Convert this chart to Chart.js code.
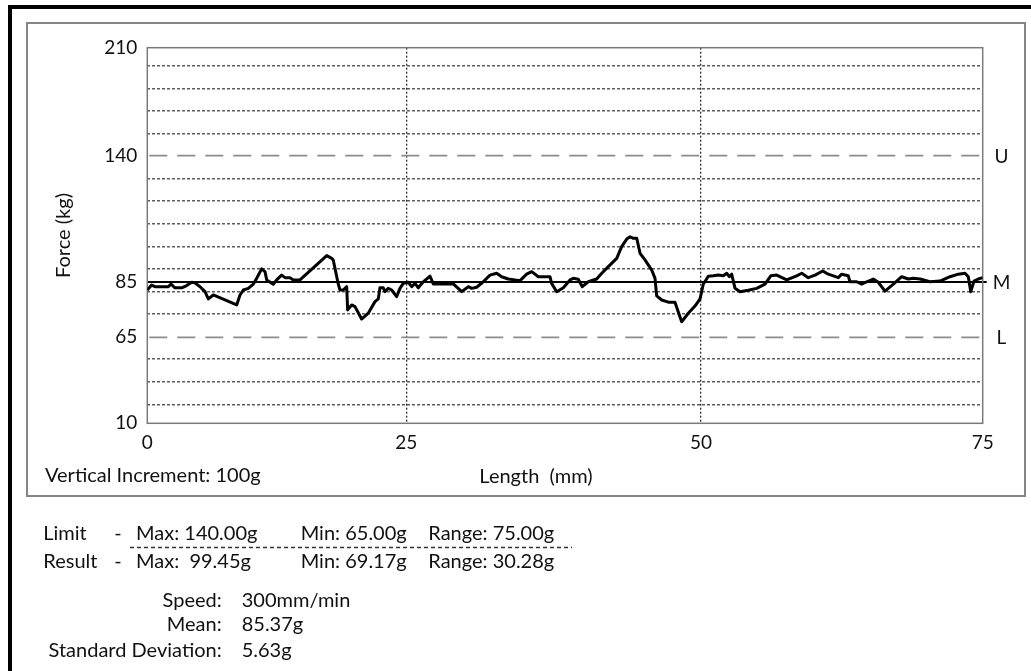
<!DOCTYPE html>
<html>
<head>
<meta charset="utf-8">
<title>Force / Length trace</title>
<script src="https://cdn.jsdelivr.net/npm/chart.js@4.4.1/dist/chart.umd.min.js"></script>
<style>
    html, body { margin: 0; padding: 0; background: #fff; }
    #chart-wrap { position: relative; width: 1031px; height: 671px; }
</style>
</head>
<body>
<div id="chart-wrap"><canvas id="force-chart" width="1031" height="671"></canvas></div>
<script>
// Trace (length in mm, force in kg)
const lengthMm = [
    0, 0.42, 0.74, 2.03, 2.29, 2.67, 3.32, 3.80, 4.29, 4.60,
    5.09, 5.57, 5.89, 6.37, 8.63, 8.95, 9.27, 9.75, 10.23, 10.56,
    11.04, 11.36, 11.53, 12.16, 12.49, 12.97, 13.29, 13.77, 14.09, 14.74,
    17.32, 17.80, 17.95, 18.44, 18.60, 18.92, 19.25, 19.34, 19.73, 20.05,
    20.69, 21.33, 21.98, 22.30, 22.46, 22.78, 22.94, 23.26, 23.59, 24.07,
    24.39, 24.71, 25.17, 25.46, 25.74, 26.02, 26.44, 27.01, 27.29, 28.99,
    29.70, 30.26, 30.55, 30.97, 31.53, 32.10, 32.67, 33.09, 33.65, 34.65,
    35.21, 35.64, 36.20, 37.19, 37.33, 37.76, 38.32, 38.89, 39.17, 39.59,
    39.93, 40.44, 41.15, 41.58, 42.14, 42.85, 43.27, 43.70, 43.98, 44.26,
    44.55, 44.83, 45.25, 45.82, 46.10, 46.24, 46.67, 47.23, 47.79, 48.36,
    48.92, 49.49, 49.92, 50.20, 50.65, 51.09, 51.54, 51.98, 52.28, 52.51,
    52.72, 53.02, 53.46, 54.20, 54.94, 55.68, 56.19, 56.72, 57.61, 58.49,
    58.94, 59.52, 60.12, 60.80, 61.30, 62.18, 62.49, 63.07, 63.22, 63.82,
    64.26, 64.71, 65.29, 65.73, 66.33, 67.07, 67.81, 68.40, 68.84, 69.44,
    70.32, 71.21, 72.10, 72.83, 73.43, 73.72, 73.94, 74.23, 74.61, 75
];
const forceKg = [
    82.1, 83.9, 83.3, 83.3, 84.2, 82.9, 82.9, 83.7, 84.9, 84.7,
    83.3, 81.5, 78.9, 80.3, 76.7, 80.3, 82.1, 82.7, 84.2, 86.6,
    90.7, 89.5, 85.9, 84.2, 85.9, 88.0, 86.9, 86.9, 85.9, 85.9,
    96.5, 95.3, 94.6, 84.2, 82.1, 82.1, 83.3, 74.9, 76.7, 76.1,
    71.6, 73.7, 77.9, 78.9, 82.9, 82.9, 81.5, 82.7, 82.1, 79.7,
    82.7, 84.5, 84.9, 83.3, 84.5, 82.9, 85.1, 87.6, 84.3, 84.3,
    81.5, 83.3, 82.7, 83.1, 85.1, 88.0, 88.8, 87.3, 86.3, 85.6,
    88.4, 89.5, 87.3, 87.3, 84.5, 81.5, 82.9, 85.9, 86.6, 86.2,
    83.3, 85.1, 86.3, 88.8, 91.7, 95.3, 100.4, 103.7, 104.7, 104.0,
    104.0, 97.5, 94.6, 90.2, 86.6, 80.0, 78.5, 77.7, 77.7, 70.6,
    73.7, 76.3, 78.9, 84.2, 87.5, 87.7, 88.0, 87.7, 88.8, 87.3,
    88.4, 82.7, 81.5, 82.0, 82.7, 84.2, 87.7, 88.0, 85.9, 87.7,
    88.8, 86.9, 88.0, 89.8, 88.4, 86.9, 88.4, 87.7, 85.1, 85.1,
    84.2, 85.1, 86.3, 84.9, 81.7, 84.2, 87.3, 86.3, 86.6, 86.3,
    85.1, 85.4, 87.3, 88.4, 88.8, 87.3, 81.5, 85.4, 86.3, 86.9
];

const xTickValues = [0, 25, 50, 75];
const yTickValues = [10, 65, 85, 140, 210];

// Upper / middle / lower limit lines
const limitNames = ['U', 'M', 'L'];
const limitValues = [140, 85, 65];

// Summary block under the chart
const limitRow = ['Max: 140.00g', 'Min: 65.00g', 'Range: 75.00g'];
const resultRow = ['Max:  99.45g', 'Min: 69.17g', 'Range: 30.28g'];
const statLabels = ['Speed:', 'Mean:', 'Standard Deviation:'];
const statValues = ['300mm/min', '85.37g', '5.63g'];

// The printout's axes are not linear: every labelled value sits at its own
// spot along the axis (fraction of the plot), straight lines in between.
const AXIS_BREAKS = {
    x: [[0, 0], [25, 0.31], [50, 0.6628], [75, 1]],
    y: [[10, 0], [65, 0.229], [85, 0.3762], [140, 0.7125], [210, 1]]
};
// dotted horizontal rules are evenly spaced on the paper
const GRID_TOP = 0.9521;
const GRID_STEP = 0.0601;

const FONT = 'Lato, "Open Sans", sans-serif';
const INK = '#111';

function toFraction(breaks, v) {
    for (let i = 1; i < breaks.length; i++) {
        const [v0, f0] = breaks[i - 1];
        const [v1, f1] = breaks[i];
        if (v <= v1 || i === breaks.length - 1) {
            return f0 + (v - v0) / (v1 - v0) * (f1 - f0);
        }
    }
}

function toValue(breaks, f) {
    for (let i = 1; i < breaks.length; i++) {
        const [v0, f0] = breaks[i - 1];
        const [v1, f1] = breaks[i];
        if (f <= f1 || i === breaks.length - 1) {
            return v0 + (f - f0) / (f1 - f0) * (v1 - v0);
        }
    }
}

class PiecewiseScale extends Chart.LinearScale {
    getPixelForValue(value) {
        if (value === null || value === undefined) return NaN;
        return this.getPixelForDecimal(toFraction(AXIS_BREAKS[this.axis], value));
    }
    getValueForPixel(pixel) {
        return toValue(AXIS_BREAKS[this.axis], this.getDecimalForPixel(pixel));
    }
}
PiecewiseScale.id = 'piecewise';
PiecewiseScale.defaults = Chart.LinearScale.defaults;
Chart.register(PiecewiseScale);

function gridTickValues() {
    const values = yTickValues.slice();
    for (let k = 0; k < 16; k++) {
        if (k === 4 || k === 12) continue; // these fall on the U and L lines
        values.push(toValue(AXIS_BREAKS.y, GRID_TOP - GRID_STEP * k));
    }
    return values.sort((a, b) => a - b);
}

function text(ctx, str, x, y, align) {
    ctx.textAlign = align || 'left';
    ctx.fillText(str, x, y);
}

const printoutPlugin = {
    id: 'printout',
    beforeDraw(chart) {
        const ctx = chart.ctx;
        ctx.save();
        ctx.fillStyle = '#fff';
        ctx.fillRect(0, 0, chart.width, chart.height);
        // heavy black corner of the page
        ctx.fillStyle = '#000';
        ctx.fillRect(8, 5, 4, chart.height - 5);
        ctx.fillRect(8, 5, chart.width - 8, 4);
        // grey box round the graph
        ctx.strokeStyle = '#858585';
        ctx.lineWidth = 2;
        ctx.strokeRect(27, 23, 998, 473);
        ctx.restore();
    },
    beforeDatasetsDraw(chart) {
        const { ctx, chartArea: a, scales } = chart;
        ctx.save();
        limitValues.forEach((v, i) => {
            const y = scales.y.getPixelForValue(v);
            ctx.beginPath();
            if (limitNames[i] === 'M') {
                ctx.strokeStyle = '#000';
                ctx.lineWidth = 2.2;
                ctx.setLineDash([]);
            } else {
                ctx.strokeStyle = '#8c8c8c';
                ctx.lineWidth = 1.7;
                ctx.setLineDash([18, 10]);
                ctx.lineDashOffset = -2;
            }
            ctx.moveTo(a.left, y);
            ctx.lineTo(a.right + 4, y);
            ctx.stroke();

            ctx.fillStyle = INK;
            ctx.font = '19px ' + FONT;
            ctx.textBaseline = 'middle';
            text(ctx, limitNames[i], 1001.5, y + 1, 'center');
        });
        // plot frame
        ctx.setLineDash([]);
        ctx.strokeStyle = '#7a7a7a';
        ctx.lineWidth = 1.5;
        ctx.strokeRect(a.left, a.top, a.right - a.left, a.bottom - a.top);
        ctx.restore();
    },
    afterDraw(chart) {
        const ctx = chart.ctx;
        ctx.save();
        ctx.fillStyle = INK;
        ctx.font = '20px ' + FONT;
        ctx.textBaseline = 'alphabetic';

        text(ctx, 'Vertical Increment: 100g', 45, 482);
        text(ctx, 'Length  (mm)', 536, 483, 'center');

        // limit / result rows
        const cols = [136, 300.7, 428.3];
        text(ctx, 'Limit', 43.3, 539.5);
        text(ctx, '-', 118, 539.5, 'center');
        limitRow.forEach((s, i) => text(ctx, s, cols[i], 539.5));
        text(ctx, 'Result', 43.3, 568);
        text(ctx, '-', 118, 568, 'center');
        resultRow.forEach((s, i) => text(ctx, s, cols[i], 568));

        ctx.strokeStyle = '#333';
        ctx.lineWidth = 1.5;
        ctx.setLineDash([4, 3]);
        ctx.beginPath();
        ctx.moveTo(130, 547.5);
        ctx.lineTo(572, 547.5);
        ctx.stroke();

        const statY = [607, 630.5, 657];
        statLabels.forEach((s, i) => {
            text(ctx, s, 221.7, statY[i], 'right');
            text(ctx, statValues[i], 241.7, statY[i]);
        });
        ctx.restore();
    }
};

function initForceChart() {
    const canvas = document.getElementById('force-chart');

    const points = lengthMm.map((x, i) => ({ x: x, y: forceKg[i] }));

    return new Chart(canvas, {
        type: 'line',
        data: {
            datasets: [{
                label: 'Force',
                data: points,
                borderColor: '#000',
                borderWidth: 3,
                borderJoinStyle: 'round',
                pointRadius: 0,
                tension: 0,
                fill: false
            }]
        },
        options: {
            responsive: false,
            animation: false,
            layout: {
                padding: { left: 51.3, top: 47.7, right: 48.3, bottom: 0 }
            },
            plugins: {
                legend: { display: false },
                tooltip: { enabled: false },
                title: { display: false }
            },
            scales: {
                x: {
                    type: 'piecewise',
                    min: 0,
                    max: 75,
                    afterBuildTicks: scale => {
                        scale.ticks = xTickValues.map(v => ({ value: v }));
                    },
                    afterFit: scale => { scale.height = 247.7; },
                    ticks: {
                        autoSkip: false,
                        maxRotation: 0,
                        padding: 8,
                        color: INK,
                        font: { family: FONT, size: 19 },
                        callback: v => String(v)
                    },
                    grid: {
                        drawTicks: false,
                        lineWidth: 1.3,
                        color: c => (c.tick && (c.tick.value === 25 || c.tick.value === 50)) ? '#333' : 'rgba(0,0,0,0)'
                    },
                    border: { display: false, dash: [2, 2] }
                },
                y: {
                    type: 'piecewise',
                    min: 10,
                    max: 210,
                    afterBuildTicks: scale => {
                        scale.ticks = gridTickValues().map(v => ({ value: v }));
                    },
                    afterFit: scale => { scale.width = 96; },
                    title: {
                        display: true,
                        text: 'Force (kg)',
                        color: INK,
                        padding: 0,
                        font: { family: FONT, size: 20 }
                    },
                    ticks: {
                        autoSkip: false,
                        padding: 10,
                        color: INK,
                        font: { family: FONT, size: 19 },
                        callback: v => yTickValues.includes(v) ? String(v) : ''
                    },
                    grid: {
                        drawTicks: false,
                        lineWidth: 1.5,
                        color: c => (c.tick && yTickValues.includes(c.tick.value)) ? 'rgba(0,0,0,0)' : '#5c5c5c'
                    },
                    border: { display: false, dash: [3, 2] }
                }
            }
        },
        plugins: [printoutPlugin]
    });
}

initForceChart();
</script>
</body>
</html>
